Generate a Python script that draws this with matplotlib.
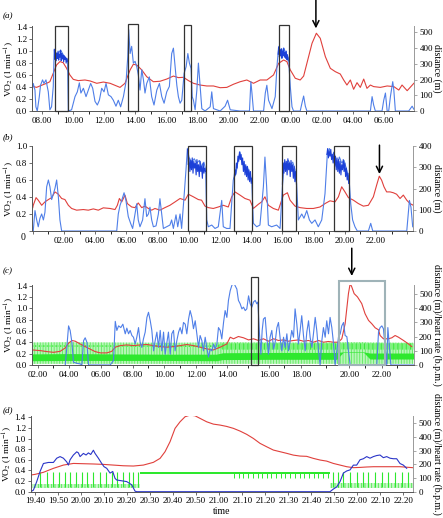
import numpy as np
import matplotlib
matplotlib.use('Agg')
import matplotlib.pyplot as plt
from matplotlib.patches import Rectangle

plt.rcParams['font.family'] = ['Liberation Serif', 'DejaVu Serif']
plt.rcParams['mathtext.fontset'] = 'stix'
plt.rcParams['hatch.linewidth'] = 0.6

W, H = 443, 518
fig = plt.figure(figsize=(W / 100, H / 100), dpi=100)

RED = '#e0403c'
BLUE = '#4f7fe8'
DBLUE = '#1c40d8'
NAVY = '#2a35c8'
GREEN = '#2ee82e'
LGREEN = '#b8f6b8'
FS = 6.5

# ---------------- panel (a) data ----------------
red_a_t = [7.31, 7.63, 8.00, 8.28, 8.49, 8.71, 8.92, 9.14, 9.35, 9.57, 9.78, 10.00, 10.32, 10.75, 11.08, 11.51,
           11.94, 12.37, 12.69, 13.01, 13.33, 13.66, 13.87, 14.09, 14.41, 14.73, 15.16, 15.59, 16.02, 16.45,
           16.77, 17.10, 17.42, 17.74, 18.17, 18.60, 19.03, 19.46, 19.89, 20.32, 20.75, 21.18, 21.61, 22.04,
           22.47, 22.90, 23.23, 23.55, 23.76, 23.98, 24.30, 24.62, 24.84, 25.05, 25.38, 25.66, 25.91, 26.24,
           26.56, 26.88, 27.20, 27.42, 27.63, 27.85, 28.06, 28.28, 28.49, 28.71, 28.92, 29.14, 29.35, 29.78,
           30.22, 30.65, 30.97, 31.18, 31.51, 31.94]
red_a_d = [159, 150, 165, 176, 186, 240, 292, 314, 307, 271, 229, 201, 193, 197, 191, 176, 184, 176, 163, 150,
           176, 261, 297, 292, 261, 218, 186, 189, 203, 222, 212, 214, 193, 176, 165, 159, 159, 148, 150, 170,
           186, 197, 176, 197, 197, 229, 303, 324, 314, 261, 208, 197, 222, 303, 430, 494, 462, 345, 271, 250,
           235, 197, 165, 197, 138, 180, 150, 203, 144, 165, 155, 150, 159, 155, 133, 165, 129, 176]
blue_a_t = [7.31, 7.42, 7.53, 7.59, 7.68, 7.81, 7.89, 8.02, 8.11, 8.24, 8.39, 8.49, 8.60, 8.71, 8.77, 8.88, 9.03,
            9.18, 9.35, 9.53, 9.63, 9.68, 9.89, 10.11, 10.26, 10.39, 10.49, 10.65, 10.82, 10.97, 11.12, 11.25,
            11.40, 11.55, 11.68, 11.83, 11.98, 12.11, 12.26, 12.43, 12.58, 12.75, 12.90, 13.05, 13.23, 13.40,
            13.51, 13.57, 13.66, 13.76, 13.87, 13.98, 14.09, 14.19, 14.30, 14.41, 14.52, 14.62, 14.73, 14.90,
            15.05, 15.20, 15.38, 15.55, 15.70, 15.85, 16.02, 16.19, 16.34, 16.45, 16.56, 16.67, 16.77, 16.88,
            16.99, 17.14, 17.27, 17.38, 17.48, 17.59, 17.66, 17.74, 17.85, 17.96, 18.06, 18.17, 18.28, 18.49,
            18.82, 18.92, 19.03, 19.46, 19.78, 19.94, 20.11, 20.75, 21.35, 21.44, 21.51, 21.61, 22.26, 22.37,
            22.47, 22.58, 22.80, 23.01, 23.12, 23.23, 23.38, 23.55, 23.72, 23.87, 23.98, 24.09, 24.19, 24.62,
            24.73, 24.84, 24.95, 25.05, 29.14, 29.25, 29.35, 29.46, 29.89, 30.00, 30.11, 30.22, 30.32, 30.43,
            30.58, 30.65, 30.75, 31.61, 31.83, 31.94]
blue_a_v = [0.27, 0.46, 0.35, 0.07, 0.0, 0.24, 0.43, 0.52, 0.46, 0.52, 0.32, 0.02, 0.07, 0.41, 1.02, 0.94, 0.96,
            1.02, 0.94, 0.88, 0.85, 0.0, 0.02, 0.24, 0.32, 0.47, 0.30, 0.38, 0.24, 0.35, 0.46, 0.38, 0.16, 0.10,
            0.18, 0.38, 0.32, 0.46, 0.27, 0.24, 0.18, 0.08, 0.18, 0.07, 0.24, 0.49, 0.91, 1.36, 0.96, 1.08, 0.80,
            0.83, 0.74, 0.60, 0.35, 0.69, 0.52, 0.30, 0.46, 0.57, 0.24, 0.10, 0.35, 0.46, 0.24, 0.13, 0.32, 0.41,
            0.96, 1.05, 0.74, 0.43, 0.24, 0.13, 0.18, 0.63, 0.74, 0.96, 0.80, 0.71, 0.24, 0.18, 0.02, 0.35, 0.80,
            0.41, 0.04, 0.0, 0.07, 0.32, 0.04, 0.0, 0.08, 0.18, 0.02, 0.0, 0.0, 0.49, 0.30, 0.0, 0.0, 0.30, 0.43,
            0.18, 0.04, 0.24, 0.74, 1.08, 0.96, 1.05, 0.96, 0.88, 0.41, 0.07, 0.0, 0.0, 0.13, 0.25, 0.08, 0.0,
            0.0, 0.24, 0.10, 0.0, 0.0, 0.18, 0.30, 0.0, 0.0, 0.24, 0.49, 0.35, 0.0, 0.0, 0.08, 0.03]
noise_a1_t = [8.78, 8.82, 8.86, 8.90, 8.94, 8.98, 9.02, 9.06, 9.10, 9.14, 9.18, 9.22, 9.26, 9.30, 9.34, 9.38,
              9.42, 9.46, 9.50, 9.54, 9.58, 9.62]
noise_a1_v = [1.03, 0.86, 0.98, 0.84, 0.97, 0.88, 1.00, 0.85, 0.95, 0.90, 1.01, 0.84, 0.96, 0.87, 0.93, 0.82,
              0.92, 0.86, 0.90, 0.80, 0.88, 0.83]
noise_a4_t = [23.20, 23.24, 23.28, 23.32, 23.36, 23.40, 23.44, 23.48, 23.52, 23.56, 23.60, 23.64, 23.68, 23.72,
              23.76, 23.80, 23.84]
noise_a4_v = [0.95, 1.06, 0.90, 1.02, 0.92, 1.04, 0.88, 1.00, 0.93, 1.05, 0.90, 0.98, 0.88, 1.00, 0.86, 0.94, 0.84]
boxes_a = [(8.82, 9.63, 1.417), (13.55, 14.15, 1.46), (17.16, 17.61, 1.445), (23.23, 23.87, 1.438)]

# ---------------- panel (b) data ----------------
red_b_t = [0.0, 0.03, 0.21, 0.35, 0.57, 0.78, 1.00, 1.21, 1.42, 1.64, 1.85, 2.06, 2.28, 2.49, 2.81, 3.24, 3.56,
           3.88, 4.20, 4.52, 4.95, 5.27, 5.42, 5.55, 5.70, 5.91, 6.06, 6.34, 6.55, 6.76, 6.98, 7.19, 7.41, 7.62,
           7.83, 8.15, 8.47, 8.79, 9.12, 9.44, 9.76, 9.97, 10.29, 10.61, 10.82, 11.04, 11.25, 11.57, 11.89,
           12.21, 12.53, 12.75, 12.96, 13.28, 13.60, 13.92, 14.14, 14.46, 14.67, 14.88, 15.10, 15.42, 15.74,
           16.06, 16.32, 16.49, 16.81, 17.13, 17.56, 17.98, 18.41, 18.73, 19.05, 19.37, 19.59, 19.80, 20.01,
           20.23, 20.55, 20.87, 21.19, 21.51, 21.83, 22.04, 22.21, 22.36, 22.51, 22.68, 22.90, 23.11, 23.32,
           23.54, 23.75, 23.97, 24.18, 24.39]
red_b_d = [110, 121, 157, 145, 121, 137, 148, 157, 184, 173, 153, 148, 121, 106, 98, 101, 98, 104, 98, 109, 106,
           101, 121, 153, 137, 169, 129, 113, 110, 132, 110, 117, 106, 98, 106, 98, 110, 121, 137, 153, 145,
           173, 161, 148, 145, 117, 110, 106, 113, 121, 113, 161, 184, 169, 153, 145, 106, 126, 137, 161, 121,
           106, 98, 169, 180, 145, 117, 110, 106, 106, 113, 129, 142, 137, 161, 208, 184, 157, 145, 129, 117,
           121, 161, 216, 258, 239, 208, 184, 184, 180, 173, 153, 169, 145, 129, 121]
blue_b_t = [0.0, 0.03, 0.14, 0.25, 0.35, 0.46, 0.57, 0.68, 0.78, 0.89, 1.00, 1.10, 1.21, 1.32, 1.42, 1.53, 1.64,
            1.74, 1.85, 5.38, 5.48, 5.59, 5.70, 5.85, 5.97, 6.12, 6.27, 6.40, 6.55, 6.66, 6.76, 6.87, 7.04, 7.19,
            7.30, 7.41, 7.51, 7.62, 7.73, 7.90, 8.05, 8.15, 8.26, 8.37, 8.58, 8.79, 8.90, 9.01, 9.18, 9.29, 9.44,
            9.54, 9.69, 9.82, 9.91, 10.01, 10.18, 10.35, 10.50, 10.68, 10.82, 10.97, 11.08, 11.15, 11.25, 11.47,
            11.68, 11.89, 12.11, 12.21, 12.43, 12.64, 12.85, 13.03, 13.18, 13.28, 13.45, 13.60, 13.75, 13.88,
            14.03, 14.14, 14.35, 14.56, 14.78, 14.88, 14.99, 15.10, 15.31, 15.63, 15.85, 16.00, 16.10, 16.23,
            16.38, 16.53, 16.66, 16.81, 16.91, 17.02, 17.24, 17.38, 17.56, 17.73, 17.88, 18.09, 18.30, 18.52,
            18.73, 18.88, 19.01, 19.16, 19.31, 19.48, 19.65, 19.80, 19.95, 20.12, 20.27, 20.38, 20.50, 20.65,
            20.80, 21.51, 21.66, 21.79, 23.97, 24.14, 24.24, 24.35]
blue_b_v = [0.0, 0.0, 0.24, 0.13, 0.05, 0.15, 0.20, 0.13, 0.22, 0.52, 0.60, 0.52, 0.37, 0.44, 0.50, 0.60, 0.40,
            0.13, 0.0, 0.0, 0.20, 0.30, 0.36, 0.45, 0.36, 0.17, 0.09, 0.03, 0.20, 0.32, 0.13, 0.05, 0.13, 0.38,
            0.17, 0.20, 0.28, 0.13, 0.05, 0.06, 0.20, 0.38, 0.20, 0.03, 0.05, 0.07, 0.13, 0.03, 0.19, 0.05, 0.20,
            0.03, 0.39, 0.72, 0.97, 0.87, 0.81, 0.85, 0.80, 0.83, 0.76, 0.81, 0.72, 0.13, 0.05, 0.07, 0.03, 0.05,
            0.36, 0.05, 0.03, 0.03, 0.60, 0.68, 0.85, 0.93, 0.80, 0.72, 0.76, 0.68, 0.60, 0.09, 0.05, 0.07, 0.52,
            0.87, 0.52, 0.07, 0.05, 0.07, 0.03, 0.52, 0.80, 0.76, 0.83, 0.78, 0.81, 0.72, 0.56, 0.13, 0.20, 0.15,
            0.24, 0.13, 0.09, 0.13, 0.05, 0.13, 0.44, 0.91, 0.97, 0.87, 0.93, 0.76, 0.87, 0.80, 0.83, 0.72, 0.62,
            0.32, 0.13, 0.05, 0.0, 0.0, 0.09, 0.0, 0.0, 0.36, 0.28, 0.05]
nb1_t = [9.92, 9.97, 10.02, 10.07, 10.12, 10.17, 10.22, 10.27, 10.32, 10.37, 10.42, 10.47, 10.52, 10.57, 10.62,
         10.67, 10.72, 10.77, 10.82, 10.87, 10.92, 10.97, 11.02, 11.07]
nb1_v = [0.96, 0.78, 0.85, 0.70, 0.83, 0.72, 0.86, 0.68, 0.82, 0.74, 0.80, 0.66, 0.84, 0.70, 0.78, 0.64, 0.82,
         0.70, 0.76, 0.62, 0.80, 0.68, 0.74, 0.70]
nb2_t = [12.90, 12.95, 13.00, 13.05, 13.10, 13.15, 13.20, 13.25, 13.30, 13.35, 13.40, 13.45, 13.50, 13.55, 13.60,
         13.65, 13.70, 13.75, 13.80, 13.85, 13.90, 13.95, 14.00, 14.05]
nb2_v = [0.62, 0.72, 0.66, 0.80, 0.74, 0.88, 0.82, 0.93, 0.84, 0.90, 0.78, 0.86, 0.70, 0.82, 0.66, 0.78, 0.64,
         0.76, 0.60, 0.72, 0.58, 0.70, 0.56, 0.62]
nb3_t = [16.00, 16.05, 16.10, 16.15, 16.20, 16.25, 16.30, 16.35, 16.40, 16.45, 16.50, 16.55, 16.60, 16.65, 16.70,
         16.75, 16.80, 16.85, 16.90]
nb3_v = [0.55, 0.80, 0.68, 0.84, 0.70, 0.82, 0.66, 0.85, 0.72, 0.80, 0.64, 0.83, 0.70, 0.78, 0.62, 0.76, 0.58,
         0.70, 0.55]
nb4_t = [18.85, 18.90, 18.95, 19.00, 19.05, 19.10, 19.15, 19.20, 19.25, 19.30, 19.35, 19.40, 19.45, 19.50, 19.55,
         19.60, 19.65, 19.70, 19.75, 19.80, 19.85, 19.90, 19.95, 20.00, 20.05, 20.10, 20.15, 20.20, 20.25]
nb4_v = [0.90, 0.97, 0.86, 0.94, 0.88, 0.96, 0.84, 0.90, 0.80, 0.92, 0.76, 0.88, 0.72, 0.86, 0.70, 0.84, 0.68,
         0.82, 0.66, 0.78, 0.72, 0.84, 0.70, 0.80, 0.64, 0.74, 0.60, 0.68, 0.56]
boxes_b = [(9.97, 11.10), (12.92, 14.07), (16.00, 16.90), (19.33, 20.27)]

# ---------------- panel (c) data (x = position along the drawn time axis) ----------------
red_c_t = [1.64, 2.17, 2.59, 3.01, 3.43, 3.75, 3.96, 4.17, 4.38, 4.69, 5.01, 5.33, 5.64, 5.96, 6.38, 6.69, 6.91,
           7.22, 7.64, 8.06, 8.48, 8.91, 9.33, 9.75, 10.17, 10.59, 11.01, 11.43, 11.85, 12.27, 12.69, 13.12,
           13.54, 13.96, 14.17, 14.38, 14.69, 15.01, 15.33, 15.64, 15.96, 16.27, 16.59, 16.91, 17.22, 17.54,
           17.85, 18.17, 18.48, 18.80, 19.12, 19.43, 19.75, 20.06, 20.38, 20.69, 21.01, 21.22, 21.43, 21.64,
           21.75, 21.85, 22.00, 22.21, 22.48, 22.69, 22.91, 23.12, 23.33, 23.54, 23.64, 23.85, 24.17, 24.38,
           24.59, 24.80, 25.12, 25.43, 25.64]
red_c_d = [106, 101, 94, 89, 96, 120, 153, 172, 167, 148, 129, 111, 94, 85, 85, 96, 125, 136, 141, 136, 141, 144,
           136, 129, 125, 129, 136, 144, 136, 125, 113, 106, 125, 148, 195, 184, 200, 191, 176, 184, 172, 184,
           167, 184, 172, 176, 167, 172, 176, 167, 172, 160, 172, 160, 165, 160, 160, 184, 289, 501, 572, 548,
           501, 478, 431, 360, 313, 289, 261, 247, 207, 184, 184, 191, 207, 195, 172, 148, 129]
blue_c_t = [3.75, 3.85, 3.96, 4.06, 4.17, 4.27, 4.48, 4.69, 4.80, 4.91, 5.01, 5.12, 5.22, 6.59, 6.80, 6.91, 7.01,
            7.12, 7.26, 7.39, 7.54, 7.64, 7.75, 7.85, 7.96, 8.06, 8.17, 8.27, 8.38, 8.48, 8.59, 8.69, 8.80, 8.91,
            9.01, 9.12, 9.22, 9.33, 9.43, 9.54, 9.64, 9.75, 9.85, 9.96, 10.06, 10.17, 10.27, 10.38, 10.48, 10.59,
            10.69, 10.80, 10.91, 11.01, 11.12, 11.22, 11.33, 11.43, 11.54, 11.64, 11.75, 11.85, 11.96, 12.06,
            12.17, 12.27, 12.38, 12.48, 12.59, 12.69, 12.80, 12.91, 13.01, 13.12, 13.22, 13.33, 13.43, 13.54,
            13.64, 13.75, 13.85, 13.96, 14.06, 14.17, 14.27, 14.38, 14.48, 14.59, 14.69, 14.80, 14.91, 15.01,
            15.12, 15.22, 15.33, 15.43, 15.54, 15.64, 15.75, 15.85, 15.92, 16.02, 16.11, 16.19, 16.27, 16.38,
            16.48, 16.59, 16.69, 16.80, 16.91, 17.01, 17.12, 17.22, 17.33, 17.43, 17.54, 17.64, 17.75, 17.85,
            17.96, 18.06, 18.17, 18.27, 18.38, 18.48, 18.59, 18.69, 18.80, 18.91, 19.01, 19.12, 19.22, 19.33,
            19.43, 19.54, 19.64, 19.75, 19.85, 19.96, 20.06, 20.17, 20.27, 20.38, 20.48, 20.59, 20.69, 20.80,
            20.91, 21.01, 21.12, 21.22, 21.33, 21.43, 21.54, 21.64, 21.75, 23.43, 23.54, 23.64, 23.75, 23.85,
            23.96, 24.06, 24.13, 24.23, 24.32, 25.75]
blue_c_v = [0.0, 0.31, 0.69, 0.61, 0.40, 0.05, 0.03, 0.02, 0.0, 0.43, 0.48, 0.40, 0.0, 0.0, 0.08, 0.77, 0.61,
            0.69, 0.66, 0.72, 0.55, 0.65, 0.55, 0.61, 0.52, 0.49, 0.37, 0.49, 0.66, 0.40, 0.31, 0.46, 0.58, 0.84,
            0.93, 0.78, 0.61, 0.25, 0.43, 0.58, 0.31, 0.61, 0.25, 0.58, 0.19, 0.40, 0.58, 0.19, 0.55, 0.61, 0.25,
            0.43, 0.58, 0.66, 0.55, 0.75, 0.72, 0.55, 0.81, 0.96, 0.84, 0.64, 0.78, 0.55, 0.31, 0.52, 0.43, 0.25,
            0.49, 0.31, 0.14, 0.28, 0.25, 0.37, 0.28, 0.37, 0.66, 0.61, 0.46, 0.75, 0.96, 0.84, 1.14, 1.31, 1.40,
            1.46, 1.40, 1.34, 1.14, 1.08, 0.99, 1.02, 0.96, 0.99, 1.22, 1.08, 1.02, 1.11, 1.14, 1.08, 1.11, 0.55,
            0.19, 0.61, 0.81, 0.84, 0.49, 0.19, 0.49, 0.61, 0.28, 0.40, 0.66, 0.75, 0.46, 0.25, 0.49, 0.31, 0.55,
            0.25, 0.43, 0.61, 0.49, 0.99, 0.72, 0.37, 0.61, 0.87, 0.52, 0.25, 0.58, 0.78, 0.49, 0.31, 0.55, 0.84,
            0.61, 0.25, 0.0, 0.43, 0.66, 0.49, 0.78, 0.55, 0.84, 0.66, 0.40, 0.0, 0.25, 0.49, 0.55, 0.69, 0.75,
            0.52, 0.50, 0.25, 0.0, 0.0, 0.58, 0.66, 0.69, 0.64, 0.31, 0.0, 0.66, 0.31, 0.0, 0.0]
hr_c_t = [1.65, 4.0, 6.6, 10.0, 13.3, 13.7, 17.0, 20.9, 21.3, 22.6, 23.0, 25.75]
hr_c_out_lo = [8, 8, 8, 8, 8, 8, 8, 8, 8, 8, 8, 8]
hr_c_out_hi = [158, 160, 158, 156, 158, 160, 158, 158, 160, 160, 158, 156]
hr_c_core_lo = [30, 32, 32, 32, 30, 38, 40, 40, 88, 88, 42, 42]
hr_c_core_hi = [78, 80, 78, 76, 76, 86, 88, 88, 92, 92, 84, 84]
hr_c_up_lo = [128, 128, 128, 128, 126, 108, 108, 108, 110, 110, 108, 108]
hr_c_up_hi = [138, 138, 138, 138, 138, 152, 152, 152, 152, 152, 152, 152]
box_c_black = (15.47, 15.92, 1.558)
box_c_grey = (21.03, 23.92, 1.488)
c_tick_pos = [2, 4, 6, 8, 10, 12, 14, 16.65, 18.66, 21.69, 23.74]
c_tick_lab = ['02.00', '04.00', '06.00', '08.00', '10.00', '12.00', '14.00', '16.00', '18.00', '20.00', '22.00']

# ---------------- panel (d) data (minutes after 19.40) ----------------
red_d_t = [-1.88, 0, 3.62, 7.96, 12.31, 16.65, 21.0, 25.34, 29.68, 34.03, 38.37, 42.72, 47.06, 51.4, 54.3,
           56.47, 58.64, 60.82, 62.99, 65.16, 67.33, 69.5, 71.68, 74.57, 77.47, 80.37, 83.26, 86.16, 89.06,
           91.95, 94.85, 97.74, 100.64, 103.53, 106.43, 109.33, 112.22, 115.12, 118.01, 120.91, 123.81, 126.70,
           129.6, 132.5, 135.4, 138.3, 141.2, 144.1, 147.0, 149.9, 152.8, 155.7, 158.6, 164.1]
red_d_d = [122, 127, 142, 171, 195, 207, 205, 203, 200, 195, 190, 188, 195, 215, 244, 293, 366, 464, 512, 549,
           561, 556, 537, 512, 495, 488, 478, 464, 444, 420, 390, 354, 329, 305, 293, 281, 268, 261, 259, 244,
           232, 224, 207, 195, 183, 176, 178, 181, 183, 183, 183, 183, 183, 176]
blue_d_t = [-1.88, -0.72, 0.72, 2.17, 3.62, 5.79, 7.96, 9.41, 10.86, 12.31, 13.76, 14.48, 15.2, 16.65, 18.1,
            18.82, 19.55, 21.0, 22.15, 23.17, 24.18, 25.34, 26.06, 27.51, 28.96, 29.97, 31.13, 32.58, 33.74,
            34.75, 35.48, 36.92, 39.82, 41.99, 43.44, 44.16, 128.15, 129.6, 131.05, 132.5, 133.94, 135.39,
            136.84, 138.29, 139.73, 141.18, 142.63, 144.08, 145.53, 146.97, 148.42, 149.87, 151.32, 152.77,
            154.21, 155.66, 157.11, 158.56, 160.01, 161.45]
blue_d_v = [0, 0.03, 0.19, 0.38, 0.53, 0.55, 0.55, 0.63, 0.66, 0.63, 0.56, 0.50, 0.60, 0.69, 0.75, 0.73, 0.66,
            0.72, 0.69, 0.73, 0.70, 0.78, 0.72, 0.63, 0.53, 0.47, 0.44, 0.35, 0.38, 0.25, 0.22, 0.21, 0.19, 0.13,
            0.01, 0, 0, 0.05, 0.09, 0.19, 0.35, 0.39, 0.41, 0.50, 0.50, 0.60, 0.62, 0.66, 0.63, 0.66, 0.68, 0.69,
            0.64, 0.66, 0.63, 0.62, 0.62, 0.53, 0.50, 0.44]
hr_d_spike_t = [2.2, 5.1, 8.0, 10.6, 13.0, 15.2, 17.8, 20.3, 22.7, 25.3, 28.2, 30.8, 33.3, 35.8, 38.4, 40.6,
                42.7, 44.9, 129.6, 131.8, 133.9, 136.8, 139.7, 142.6, 144.8, 147.7, 150.6, 153.5, 156.4, 159.3,
                162.2]
hr_d_spike_base = 36
hr_d_spike_peak = 142
hr_d_comb_t = [86.5, 88.6, 90.4, 92.7, 94.5, 96.8, 98.6, 100.9, 102.7, 104.8, 106.9, 108.7, 110.9, 112.8,
               115.0, 116.9, 119.0, 121.1, 123.0, 125.2, 127.1]
hr_d_base_t = [-1.9, 45.5, 128.0, 164.2]
hr_d_base_lo = [28, 28, 30, 30]
hr_d_base_hi = [60, 60, 62, 62]
hr_d_band_t = [45.5, 128.0]
hr_d_band_lo = [128, 128]
hr_d_band_hi = [142, 142]

# ---------------- helpers ----------------
def style_axes(ax, ax2, ylim, y2lim, y2ticks):
    ax.set_ylim(*ylim)
    ax2.set_ylim(*y2lim)
    ax2.set_yticks(y2ticks)
    for a in (ax, ax2):
        a.spines['top'].set_visible(False)
        a.tick_params(labelsize=FS, length=2.5, width=0.6, pad=1.5, direction='out')
        a.tick_params(which='minor', length=2.5, width=0.6, direction='out')
    ax.tick_params(axis='y', pad=1.0)
    ax.spines['left'].set_color('#555555')
    ax.spines['bottom'].set_color('#555555')
    ax.spines['right'].set_visible(False)
    ax2.spines['left'].set_visible(False)
    ax2.spines['bottom'].set_visible(False)
    ax2.spines['right'].set_color('#999999')
    for a in (ax, ax2):
        for s in a.spines.values():
            s.set_linewidth(0.7)
    ax.tick_params(axis='y', colors='#555555', labelcolor='black')
    ax.tick_params(axis='x', colors='#555555', labelcolor='black')
    ax2.tick_params(axis='y', colors='#999999', labelcolor='black')
    ax.set_zorder(ax2.get_zorder() + 1)
    ax.patch.set_visible(False)


def hour_axis(ax, lo, hi, first_label=None):
    major = [h for h in range(int(np.ceil(lo)), int(hi) + 1) if h % 2 == 0]
    minor = [h for h in range(int(np.ceil(lo)), int(hi) + 1) if h % 2 != 0]
    ax.set_xticks(major)
    ax.set_xticklabels(['%02d.00' % (h % 24) if (first_label is None or first_label <= h <= 22) else ''
                        for h in major])
    ax.set_xticks(minor, minor=True)
    ax.set_xlim(lo, hi)


def vlabel(ax, text, x_px, ax_left_px, ax_w_px):
    ax.set_ylabel(text, fontsize=6.8, va='center')
    ax.yaxis.set_label_coords((x_px - ax_left_px) / ax_w_px, 0.5)


def rlabel(ax2, text, x_px, ax_left_px, ax_w_px):
    ax2.set_ylabel(text, fontsize=7, rotation=270, va='center')
    ax2.yaxis.set_label_coords((x_px - ax_left_px) / ax_w_px, 0.5)


def arrow(ax, x, y0, y1):
    ax.annotate('', xy=(x, y1), xytext=(x, y0),
                arrowprops=dict(arrowstyle='->', lw=1.1, color='black', mutation_scale=11,
                                shrinkA=0, shrinkB=0),
                annotation_clip=False)


def box(ax, t0, t1, top, color='#333333', lw=0.9):
    ax.add_patch(Rectangle((t0, 0), t1 - t0, top, fill=False, ec=color, lw=lw, clip_on=False, zorder=6))


VLAB = r'VO$_2$ (l min$^{-1}$)'

# ---------------- panel (a) ----------------
axa = fig.add_axes([32 / W, 1 - 111 / H, 382 / W, 85 / H])
axa2 = axa.twinx()
style_axes(axa, axa2, (0, 1.42), (0, 540), [0, 100, 200, 300, 400, 500])
axa.set_yticks(np.arange(0, 1.41, 0.2))
axa.set_yticklabels(['%.1f' % v for v in np.arange(0, 1.41, 0.2)])
hour_axis(axa, 7.34, 31.95)
axa2.plot(red_a_t, red_a_d, color=RED, lw=0.8)
axa.plot(blue_a_t, blue_a_v, color=BLUE, lw=0.8)
axa.plot(noise_a1_t, noise_a1_v, color=DBLUE, lw=0.8)
axa.plot(noise_a4_t, noise_a4_v, color=DBLUE, lw=0.8)
for t0, t1, top in boxes_a:
    box(axa, t0, t1, top)
arrow(axa, 25.63, 1.86, 1.38)
vlabel(axa, VLAB, 9, 32, 382)
rlabel(axa2, 'distance (m)', 437, 32, 382)

# ---------------- panel (b) ----------------
axb = fig.add_axes([32 / W, 1 - 231 / H, 381 / W, 85 / H])
axb2 = axb.twinx()
style_axes(axb, axb2, (0, 1.0), (0, 400), [0, 100, 200, 300, 400])
axb.set_yticks([0, 0.2, 0.4, 0.6, 0.8, 1.0])
axb.set_yticklabels(['', '0.2', '0.4', '0.6', '0.8', '1.0'])
hour_axis(axb, -0.05, 24.37, first_label=2)
axb2.plot(red_b_t, red_b_d, color=RED, lw=0.8)
axb.plot(blue_b_t, blue_b_v, color=BLUE, lw=0.8)
for tt, vv in ((nb1_t, nb1_v), (nb2_t, nb2_v), (nb3_t, nb3_v), (nb4_t, nb4_v)):
    axb.plot(tt, vv, color=DBLUE, lw=0.8)
for t0, t1 in boxes_b:
    box(axb, t0, t1, 1.0)
arrow(axb, 22.22, 1.01, 0.67)
vlabel(axb, VLAB, 9, 32, 381)
rlabel(axb2, 'distance (m)', 437, 32, 381)
fig.text(23.5 / W, 1 - 238 / H, '0', fontsize=FS + 0.5, ha='center', va='center')

# ---------------- panel (c) ----------------
axc = fig.add_axes([32 / W, 1 - 365 / H, 381.5 / W, 80.5 / H])
axc2 = axc.twinx()
style_axes(axc, axc2, (0, 1.42), (0, 565), [0, 100, 200, 300, 400, 500])
axc.set_yticks(np.arange(0, 1.41, 0.2))
axc.set_yticklabels(['%.1f' % v for v in np.arange(0, 1.41, 0.2)])
axc.set_xlim(1.65, 25.75)
axc.set_xticks(c_tick_pos)
axc.set_xticklabels(c_tick_lab)
axc.set_xticks([3, 5, 7, 9, 11, 13, 15.3, 17.6, 20.2, 22.7, 24.7], minor=True)
axc2.fill_between(hr_c_t, hr_c_out_lo, hr_c_out_hi, facecolor=LGREEN, edgecolor='#5eea5e',
                  hatch='||||||', lw=0)
axc2.fill_between(hr_c_t, hr_c_up_lo, hr_c_up_hi, facecolor='#7df27d', edgecolor=GREEN, hatch='||||', lw=0)
axc2.fill_between(hr_c_t, hr_c_core_lo, hr_c_core_hi, color=GREEN, lw=0)
axc2.plot(red_c_t, red_c_d, color=RED, lw=0.8)
axc.plot(blue_c_t, blue_c_v, color=BLUE, lw=0.8)
box(axc, *box_c_black)
box(axc, *box_c_grey, color='#9fb3b8', lw=1.5)
arrow(axc, 21.85, 2.06, 1.57)
vlabel(axc, VLAB, 9, 32, 381.5)
rlabel(axc2, 'distance (m)/heart rate (b.p.m.)', 437, 32, 381.5)

# ---------------- panel (d) ----------------
axd = fig.add_axes([30.7 / W, 1 - 491.7 / H, 382.3 / W, 75.5 / H])
axd2 = axd.twinx()
style_axes(axd, axd2, (0, 1.42), (0, 553), [0, 100, 200, 300, 400, 500])
axd.set_yticks(np.arange(0, 1.41, 0.2))
axd.set_yticklabels(['%.1f' % v for v in np.arange(0, 1.41, 0.2)])
dt = list(range(0, 161, 10))
axd.set_xticks(dt)
axd.set_xticklabels(['%d.%02d' % ((19 * 60 + 40 + m) // 60, (19 * 60 + 40 + m) % 60) for m in dt])
axd.set_xlim(-1.9, 164.2)
axd2.fill_between(hr_d_base_t[:2], hr_d_base_lo[:2], hr_d_base_hi[:2], facecolor='#c8f7c8',
                  edgecolor='#4ee84e', hatch='|||||', lw=0)
axd2.fill_between(hr_d_base_t[2:], hr_d_base_lo[2:], hr_d_base_hi[2:], facecolor='#c8f7c8',
                  edgecolor='#4ee84e', hatch='|||||', lw=0)
axd2.fill_between(hr_d_band_t, hr_d_band_lo, hr_d_band_hi, color=GREEN, lw=0)
axd2.vlines(hr_d_spike_t, hr_d_spike_base, hr_d_spike_peak, color=GREEN, lw=0.8)
axd2.vlines(hr_d_comb_t, 100, 140, color=GREEN, lw=0.7)
axd2.plot(red_d_t, red_d_d, color=RED, lw=0.8)
axd.plot(blue_d_t, blue_d_v, color=NAVY, lw=0.8)
axd.set_xlabel('time', fontsize=7, labelpad=1)
vlabel(axd, VLAB, 7.5, 30.7, 382.3)
rlabel(axd2, 'distance (m)/heart rate (b.p.m.)', 437, 30.7, 382.3)

for lab, y in (('(a)', 16), ('(b)', 137), ('(c)', 271), ('(d)', 410)):
    fig.text(3 / W, 1 - y / H, lab, fontsize=6.5, style='italic', va='center')

fig.savefig('out.png', dpi=100)
